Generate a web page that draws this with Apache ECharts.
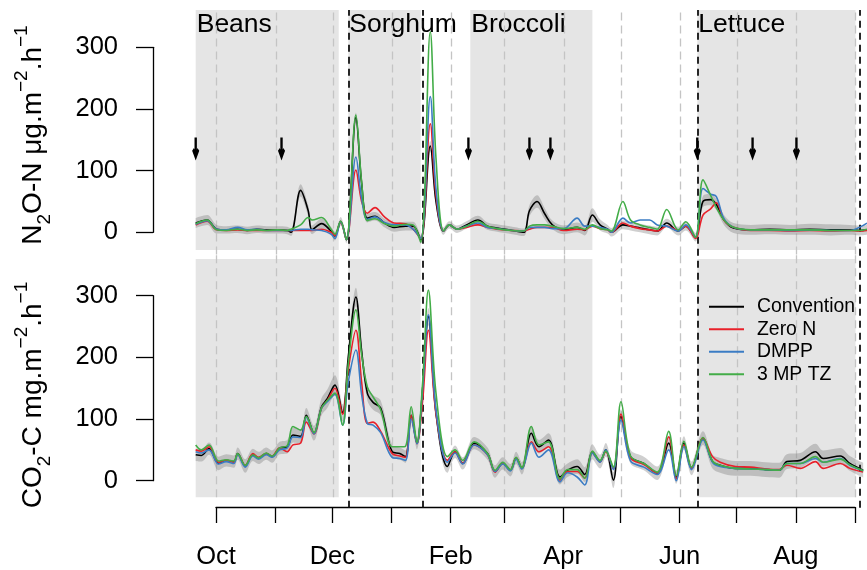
<!DOCTYPE html>
<html><head><meta charset="utf-8">
<script src="https://cdn.jsdelivr.net/npm/echarts@6/dist/echarts.min.js"></script>
<style>html,body{margin:0;padding:0;background:#fff}#c{width:867px;height:570px}</style>
</head><body><div id="c"></div><script>
const FONT = '"Liberation Sans", Arial, Helvetica, sans-serif';

// ---------- N2O-N (ug m-2 h-1) ----------
const n2oDates = ['2013-09-20','2013-09-26','2013-10-01','2013-10-06','2013-10-12','2013-10-17','2013-10-22','2013-10-27','2013-11-02','2013-11-07','2013-11-09','2013-11-14','2013-11-18','2013-11-20','2013-11-25','2013-11-30','2013-12-02','2013-12-05','2013-12-08','2013-12-13','2013-12-16','2013-12-19','2013-12-23','2013-12-28','2014-01-02','2014-01-08','2014-01-12','2014-01-16','2014-01-21','2014-01-24','2014-01-28','2014-01-31','2014-02-04','2014-02-09','2014-02-15','2014-02-20','2014-02-25','2014-03-05','2014-03-11','2014-03-14','2014-03-18','2014-03-22','2014-03-26','2014-04-01','2014-04-08','2014-04-12','2014-04-16','2014-04-20','2014-04-24','2014-04-26','2014-05-02','2014-05-06','2014-05-11','2014-05-16','2014-05-20','2014-05-25','2014-05-31','2014-06-04','2014-06-09','2014-06-13','2014-06-17','2014-06-20','2014-06-24','2014-06-29','2014-07-08','2014-07-18','2014-07-29','2014-08-08','2014-08-19','2014-08-29','2014-09-03','2014-09-07'];
const n2oConvention = [15,20,5,4,5,3,5,4,4,3,0,68,35,4,14,2,-6,18,-12,186,80,23,26,15,8,10,10,-12,140,50,2,12,5,12,20,10,7,3,0,35,50,30,12,4,8,3,28,12,5,0,12,10,7,4,2,15,2,10,-8,50,53,45,20,7,4,5,4,5,4,4,3,4];
const n2oZeroN      = [12,18,4,3,4,3,3,3,3,3,3,3,3,3,5,0,-5,16,-12,101,50,31,40,25,15,14,5,-10,176,60,2,12,5,8,12,8,5,3,2,5,8,8,8,3,5,4,10,6,4,0,15,10,6,4,2,10,3,10,-10,28,38,48,20,8,3,3,2,3,2,3,2,3];
const n2oDMPP       = [13,19,5,4,8,4,5,3,3,3,3,5,5,4,3,-3,-10,17,-12,122,55,21,25,16,12,12,5,-10,220,70,2,12,5,10,15,8,6,3,2,8,8,8,6,6,23,10,10,8,5,0,23,15,20,20,12,10,2,12,-8,71,62,58,22,8,4,4,3,4,3,3,8,15];
const n2o3MPTZ      = [14,20,4,3,5,3,4,3,4,3,5,12,24,20,24,5,-3,18,-12,190,82,19,22,14,10,13,12,-16,325,120,2,12,5,10,18,10,6,3,2,10,12,12,10,6,8,5,12,6,4,2,50,20,12,8,5,37,4,17,-8,85,60,40,20,8,4,4,4,4,3,3,3,5];
const n2oBand       = [8,8,7,6,6,6,6,6,6,6,6,10,9,7,8,7,7,7,6,8,8,7,7,7,7,7,7,7,8,8,6,6,6,6,7,6,6,6,6,9,10,9,7,7,8,8,11,9,7,7,7,7,7,7,7,7,7,7,7,9,9,9,8,8,8,8,8,9,9,8,8,8];

// ---------- CO2-C (mg m-2 h-1) ----------
const co2Dates = ['2013-09-20','2013-09-23','2013-09-27','2013-10-02','2013-10-06','2013-10-10','2013-10-12','2013-10-16','2013-10-20','2013-10-23','2013-10-27','2013-10-30','2013-11-03','2013-11-07','2013-11-10','2013-11-14','2013-11-17','2013-11-21','2013-11-25','2013-11-28','2013-12-02','2013-12-06','2013-12-09','2013-12-13','2013-12-16','2013-12-19','2013-12-22','2013-12-26','2014-01-01','2014-01-05','2014-01-08','2014-01-11','2014-01-14','2014-01-17','2014-01-20','2014-01-24','2014-01-30','2014-02-03','2014-02-07','2014-02-13','2014-02-20','2014-02-24','2014-02-28','2014-03-04','2014-03-07','2014-03-10','2014-03-15','2014-03-19','2014-03-24','2014-03-30','2014-04-03','2014-04-08','2014-04-12','2014-04-16','2014-04-20','2014-04-23','2014-04-27','2014-05-01','2014-05-06','2014-05-13','2014-05-20','2014-05-26','2014-05-30','2014-06-03','2014-06-07','2014-06-13','2014-06-18','2014-06-22','2014-06-30','2014-07-08','2014-07-16','2014-07-23','2014-07-27','2014-08-03','2014-08-11','2014-08-15','2014-08-24','2014-08-29','2014-09-05'];
const co2Convention = [42,41,52,28,33,31,44,24,42,37,44,39,53,55,74,72,106,77,120,133,155,110,200,298,210,142,127,118,47,44,39,106,61,150,266,110,23,47,28,61,44,15,28,17,37,20,77,55,66,6,17,23,10,47,31,50,1,104,39,28,12,61,6,61,20,69,31,25,20,20,18,17,31,33,47,36,40,28,17];
const co2ZeroN      = [50,48,55,30,33,30,43,25,44,38,44,40,53,47,58,61,95,76,118,130,150,108,180,244,160,93,95,80,44,40,38,106,60,130,244,109,33,47,28,58,42,14,28,17,37,20,63,47,55,1,15,15,4,45,31,47,20,108,37,26,12,71,3,58,20,69,39,30,23,22,19,18,25,20,31,20,28,20,14];
const co2DMPP       = [47,45,50,27,31,28,42,22,40,35,42,38,50,53,71,70,103,76,118,128,140,90,160,212,140,93,90,78,38,36,33,100,60,150,269,115,30,45,27,58,42,15,27,16,35,19,61,38,50,-2,13,6,-7,45,30,50,18,98,32,22,10,50,0,55,18,66,30,23,20,19,18,17,28,28,36,30,36,25,16];
const co23MPTZ      = [58,50,58,32,34,32,44,25,42,37,45,40,53,57,88,82,104,78,118,130,142,90,190,277,205,152,136,115,55,55,56,120,62,160,309,142,39,50,33,63,44,17,30,18,38,21,88,58,63,3,18,18,4,48,33,48,22,128,40,28,14,80,8,64,22,70,32,25,20,19,18,17,28,28,39,30,35,26,16];
const co2Band       = [10,10,10,11,10,10,10,11,10,10,10,10,10,11,12,12,12,12,14,15,16,14,14,15,14,12,12,12,11,10,10,12,10,12,14,12,10,10,10,10,10,10,10,10,10,10,12,11,11,12,11,12,12,12,11,11,13,12,11,11,11,12,11,11,11,11,11,12,12,12,12,12,12,12,13,13,13,12,12];

// ---------- crops, events, axis labels ----------
const cropNames  = ['Beans','Sorghum','Broccoli','Lettuce'];
const cropStart  = ['2013-09-20','2013-12-09','2014-02-11','2014-06-10'];
const cropEnd    = ['2013-12-04','2014-01-16','2014-04-16','2014-09-01'];
const cropLines  = ['2013-12-09','2014-01-17','2014-06-10','2014-09-03'];
const fertDates  = ['2013-09-20','2013-11-04','2014-02-10','2014-03-14','2014-03-25','2014-06-10','2014-07-09','2014-08-01'];
const ARROW_LEVEL = 135;
const monthLabels = {'10':'Oct','12':'Dec','02':'Feb','04':'Apr','06':'Jun','08':'Aug'};
const yTicks = [0,100,200,300];
const seriesNames = ['Convention','Zero N','DMPP','3 MP TZ'];
const seriesColors = ['#000000','#e8202a','#3b7cc4','#43ad48'];

function dayRange(a, b) {
  const p = s => { const [y,m,d] = s.split('-').map(Number); return Date.UTC(y, m-1, d); };
  const out = [];
  for (let t = p(a); t <= p(b); t += 86400000) out.push(new Date(t).toISOString().slice(0,10));
  return out;
}
const plotDays = dayRange('2013-09-20','2014-09-07');
const axisDays = dayRange('2013-10-01','2014-09-01');
const monthStarts = plotDays.filter(d => d.endsWith('-01'));

const S = 0.35;
const pair = (dates, vals) => dates.map((d,i) => [d, vals[i]]);

function panelSeries(p, dates, lines, band, shadeLow, shadeHigh, withLabels) {
  const out = [];
  const conv = lines[0];
  out.push({
    type:'line', name:'band-low-'+p, xAxisIndex:p, yAxisIndex:p, stack:'band'+p, stackStrategy:'all',
    data: dates.map((d,i)=>[d, conv[i]-band[i]]), symbol:'none', smooth:S, silent:true,
    lineStyle:{opacity:0}, z:2,
    markArea:{ silent:true, z:1,
      itemStyle:{color:'#e5e5e5', borderWidth:0},
      label:{ show:withLabels, position:'insideTopLeft', distance:1, color:'#000', fontSize:26.5, fontFamily:FONT },
      data: cropNames.map((n,i)=>[{name:n, xAxis:cropStart[i], yAxis:shadeLow},{xAxis:cropEnd[i], yAxis:shadeHigh}])
    },
    markLine:{ silent:true, z:1.5, symbol:['none','none'], label:{show:false},
      lineStyle:{color:'#c4c4c4', width:1.3, type:[8,5]},
      data: monthStarts.map(d=>({xAxis:d}))
    }
  });
  out.push({
    type:'line', name:'band-up-'+p, xAxisIndex:p, yAxisIndex:p, stack:'band'+p, stackStrategy:'all',
    data: dates.map((d,i)=>[d, 2*band[i]]), symbol:'none', smooth:S, silent:true,
    lineStyle:{opacity:0}, areaStyle:{color:'rgba(120,120,120,0.5)'}, z:2
  });
  lines.forEach((v,k)=>{
    out.push({ type:'line', name:seriesNames[k], xAxisIndex:p, yAxisIndex:p, data:pair(dates, v),
      symbol:'none', smooth:S, lineStyle:{width:1.6, color:seriesColors[k]}, itemStyle:{color:seriesColors[k]}, z:3 });
  });
  return out;
}

const series = [].concat(
  panelSeries(0, n2oDates, [n2oConvention,n2oZeroN,n2oDMPP,n2o3MPTZ], n2oBand, -28.7, 360.5, true),
  panelSeries(1, co2Dates, [co2Convention,co2ZeroN,co2DMPP,co23MPTZ], co2Band, -26.9, 359.5, false),
  [{
    type:'line', name:'crop-lines', xAxisIndex:2, yAxisIndex:2, data: cropLines.map(d=>[d,0]), symbol:'none',
    lineStyle:{opacity:0}, silent:true,
    markLine:{ silent:true, z:2.5, symbol:['none','none'], label:{show:false},
      lineStyle:{color:'#111', width:1.8, type:[7,5]}, data: cropLines.map(d=>({xAxis:d})) }
  },{
    type:'scatter', name:'fertiliser', xAxisIndex:0, yAxisIndex:0, z:4, silent:true,
    data: fertDates.map(d=>[d, ARROW_LEVEL]),
    symbol:'path://M4,0 H8 V16 H4 Z M0,12.6 L3,10 L6,14.6 L9,10 L12,12.6 L6,22 Z',
    symbolSize:[13,23], symbolKeepAspect:true, itemStyle:{color:'#000', opacity:1}
  }]
);

const hiddenCat = (g) => ({type:'category', gridIndex:g, data:plotDays, boundaryGap:false, show:false});
const yAxisBase = (g) => ({
  type:'value', gridIndex:g, min:0, max:300, interval:100,
  axisLine:{show:true, lineStyle:{color:'#000', width:1.3}},
  axisTick:{show:true, length:17, lineStyle:{color:'#000', width:1.3}},
  axisLabel:{show:true, margin:35, fontSize:25.5, fontFamily:FONT, color:'#000',
    formatter: v => yTicks.includes(v) ? String(v) : ''},
  splitLine:{show:false}
});

const option = {
  animation:false,
  backgroundColor:'#fff',
  grid:[
    {left:195.7, right:0, top:10, height:244.5},
    {left:195.7, right:0, top:254.5, height:242.8},
    {left:195.7, right:0, top:10, height:497.7},
    {left:216, right:12, top:506.7, height:1},
    {left:153, top:47.3, width:20, height:185},
    {left:153, top:295.7, width:20, height:185}
  ],
  xAxis:[
    hiddenCat(0), hiddenCat(1), hiddenCat(2),
    {type:'category', gridIndex:3, data:axisDays, boundaryGap:false,
      axisLine:{show:true, lineStyle:{color:'#000', width:1.3}},
      axisTick:{show:true, length:16, lineStyle:{color:'#000', width:1.3}, interval:(i,v)=>v.endsWith('-01')},
      axisLabel:{show:true, margin:37, fontSize:25.5, fontFamily:FONT, color:'#000', hideOverlap:false,
        interval:(i,v)=> v.endsWith('-01') && !!monthLabels[v.slice(5,7)],
        formatter: v => monthLabels[v.slice(5,7)] || ''},
      splitLine:{show:false}},
    {type:'value', gridIndex:4, show:false},
    {type:'value', gridIndex:5, show:false}
  ],
  yAxis:[
    {type:'value', gridIndex:0, min:-36, max:360.5, show:false},
    {type:'value', gridIndex:1, min:-26.9, max:366.8, show:false},
    {type:'value', gridIndex:2, min:0, max:1, show:false},
    {type:'value', gridIndex:3, show:false},
    yAxisBase(4), yAxisBase(5)
  ],
  legend:{
    data: seriesNames, orient:'vertical', left:704, top:292.2, icon:'rect',
    itemWidth:35, itemHeight:2, itemGap:3.5, selectedMode:false,
    textStyle:{fontSize:19.4, fontFamily:FONT, color:'#000', lineHeight:19, padding:[0,0,0,8]}
  },
  graphic:[
    {type:'text', x:33.5, y:135, rotation:Math.PI/2, silent:true,
      style:{text:'N{sub|2}O-N μg.m{sup|−2}.h{sup|−1}', fontSize:28, fontFamily:FONT, fill:'#000',
        align:'center', verticalAlign:'middle', lineHeight:42,
        rich:{sub:{fontSize:19, fontFamily:FONT, verticalAlign:'bottom', lineHeight:24},
              sup:{fontSize:19, fontFamily:FONT, verticalAlign:'top', lineHeight:19}}}},
    {type:'text', x:33.5, y:395, rotation:Math.PI/2, silent:true,
      style:{text:'CO{sub|2}-C mg.m{sup|−2}.h{sup|−1}', fontSize:28, fontFamily:FONT, fill:'#000',
        align:'center', verticalAlign:'middle', lineHeight:42,
        rich:{sub:{fontSize:19, fontFamily:FONT, verticalAlign:'bottom', lineHeight:24},
              sup:{fontSize:19, fontFamily:FONT, verticalAlign:'top', lineHeight:19}}}}
  ],
  series: series
};

const chart = echarts.init(document.getElementById('c'), null, {renderer:'canvas'});
chart.setOption(option);
</script></body></html>
